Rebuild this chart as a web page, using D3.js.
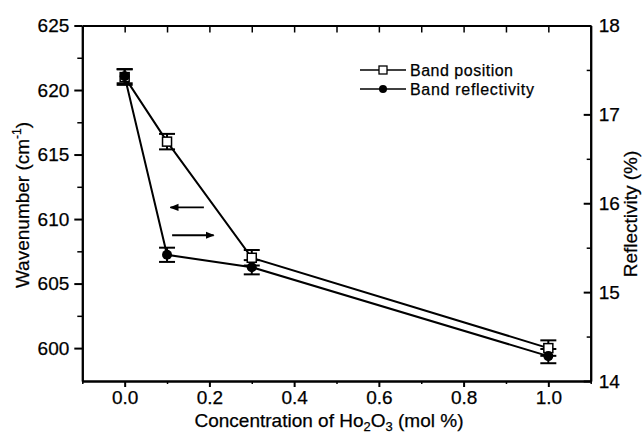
<!DOCTYPE html>
<html>
<head>
<meta charset="utf-8">
<script src="https://cdn.jsdelivr.net/npm/d3@7"></script>
<style>
  body { margin: 0; background: #fff; }
  text { font-family: "Liberation Sans", Arial, sans-serif; fill: #000; stroke: #000; stroke-width: 0.25px; }
</style>
</head>
<body>
<div id="vis-holder"></div>
<script>
// Data
const conc = [0.0, 0.1, 0.3, 1.0];
const bandPosition = [621, 616, 607, 600];
const positionErr = [0.6, 0.6, 0.6, 0.6];
const bandReflectivity = [17.43, 15.42, 15.28, 14.28];
const reflectivityErr = [0.08, 0.08, 0.08, 0.08];

const xTicks = [0.0, 0.2, 0.4, 0.6, 0.8, 1.0];
const xMinor = [-0.1, 0.1, 0.3, 0.5, 0.7, 0.9, 1.1];
const leftTicks = [600, 605, 610, 615, 620, 625];
const leftMinor = [602.5, 607.5, 612.5, 617.5, 622.5];
const rightTicks = [14, 15, 16, 17, 18];
const rightMinor = [14.5, 15.5, 16.5, 17.5];

const legendLabels = ["Band position", "Band reflectivity"];

// Set margins and dimensions
const width = 642;
const height = 433;
const margin = { top: 25.5, right: 51.3, bottom: 52, left: 82.3 };

const svg = d3.select("#vis-holder")
  .append("svg")
  .attr("width", width)
  .attr("height", height);

// Scales
const x = d3.scaleLinear()
  .domain([-0.1, 1.1])
  .range([margin.left, width - margin.right]);

const yL = d3.scaleLinear()
  .domain([597.45, 625])
  .range([height - margin.bottom, margin.top]);

const yR = d3.scaleLinear()
  .domain([14, 18])
  .range([height - margin.bottom, margin.top]);

function styleAxis(g, w) {
  g.select(".domain").attr("stroke-width", 2);
  g.selectAll(".tick line").attr("stroke-width", w);
  g.selectAll(".tick text").attr("font-size", "19px")
    .attr("font-family", "Liberation Sans, Arial, sans-serif");
}

// Bottom axis
svg.append("g")
  .attr("transform", `translate(0,${height - margin.bottom})`)
  .call(d3.axisBottom(x).tickValues(xMinor).tickSize(3).tickSizeOuter(0).tickFormat(""))
  .call(g => styleAxis(g, 1.5));
svg.append("g")
  .attr("transform", `translate(0,${height - margin.bottom})`)
  .call(d3.axisBottom(x).tickValues(xTicks).tickSize(6).tickPadding(4)
          .tickSizeOuter(0).tickFormat(d3.format(".1f")))
  .call(g => styleAxis(g, 2));

// Top axis (ticks inward, no labels)
svg.append("g")
  .attr("transform", `translate(0,${margin.top})`)
  .call(d3.axisTop(x).tickValues(xTicks.concat(xMinor)).tickSize(-7).tickSizeOuter(0).tickFormat(""))
  .call(g => styleAxis(g, 1.5));

// Left axis
svg.append("g")
  .attr("transform", `translate(${margin.left},0)`)
  .call(d3.axisLeft(yL).tickValues(leftMinor).tickSize(5).tickSizeOuter(0).tickFormat(""))
  .call(g => styleAxis(g, 1.5));
svg.append("g")
  .attr("transform", `translate(${margin.left},0)`)
  .call(d3.axisLeft(yL).tickValues(leftTicks).tickSize(8).tickPadding(5).tickSizeOuter(0))
  .call(g => styleAxis(g, 2));

// Right axis (ticks inward)
svg.append("g")
  .attr("transform", `translate(${width - margin.right},0)`)
  .call(d3.axisRight(yR).tickValues(rightMinor).tickSize(-4).tickSizeOuter(0).tickFormat(""))
  .call(g => styleAxis(g, 1.5));
svg.append("g")
  .attr("transform", `translate(${width - margin.right},0)`)
  .call(d3.axisRight(yR).tickValues(rightTicks).tickSize(-7).tickPadding(8)
          .tickSizeOuter(0).tickFormat(d3.format("d")))
  .call(g => styleAxis(g, 2));

// Axis titles
const xTitle = svg.append("text")
  .attr("x", 329)
  .attr("y", 427)
  .attr("text-anchor", "middle")
  .attr("font-size", "19px");
xTitle.append("tspan").text("Concentration of Ho");
xTitle.append("tspan").attr("font-size", "13px").attr("dy", 4).text("2");
xTitle.append("tspan").attr("dy", -4).text("O");
xTitle.append("tspan").attr("font-size", "13px").attr("dy", 4).text("3");
xTitle.append("tspan").attr("dy", -4).text(" (mol %)");

const yTitle = svg.append("text")
  .attr("transform", "translate(29,205) rotate(-90)")
  .attr("text-anchor", "middle")
  .attr("font-size", "19px");
yTitle.append("tspan").text("Wavenumber (cm");
yTitle.append("tspan").attr("font-size", "12px").attr("dy", -8).text("-1");
yTitle.append("tspan").attr("dy", 8).text(")");

svg.append("text")
  .attr("transform", "translate(637,214) rotate(-90)")
  .attr("text-anchor", "middle")
  .attr("font-size", "19px")
  .text("Reflectivity (%)");

// Lines
const posPts = conc.map((c, i) => [x(c), yL(bandPosition[i])]);
const refPts = conc.map((c, i) => [x(c), yR(bandReflectivity[i])]);

svg.append("path")
  .attr("d", d3.line()(refPts))
  .attr("fill", "none").attr("stroke", "#000").attr("stroke-width", 2);
svg.append("path")
  .attr("d", d3.line()(posPts))
  .attr("fill", "none").attr("stroke", "#000").attr("stroke-width", 2);

// Error bars
function errorBars(vals, errs, scale) {
  const g = svg.append("g").attr("stroke", "#000").attr("stroke-width", 2);
  conc.forEach((c, i) => {
    const cx = x(c);
    const y0 = scale(vals[i] - errs[i]);
    const y1 = scale(vals[i] + errs[i]);
    g.append("line").attr("x1", cx).attr("x2", cx).attr("y1", y0).attr("y2", y1);
    g.append("line").attr("x1", cx - 8).attr("x2", cx + 8).attr("y1", y0).attr("y2", y0);
    g.append("line").attr("x1", cx - 8).attr("x2", cx + 8).attr("y1", y1).attr("y2", y1);
  });
}
errorBars(bandPosition, positionErr, yL);
errorBars(bandReflectivity, reflectivityErr, yR);

// Markers
svg.selectAll(".pos")
  .data(conc)
  .enter()
  .append("rect")
    .attr("class", "pos")
    .attr("x", (d) => x(d) - 4.5)
    .attr("y", (d, i) => yL(bandPosition[i]) - 4.5)
    .attr("width", 9).attr("height", 9)
    .attr("fill", "#fff").attr("stroke", "#000").attr("stroke-width", 1.5);

svg.selectAll(".ref")
  .data(conc)
  .enter()
  .append("circle")
    .attr("class", "ref")
    .attr("cx", (d) => x(d))
    .attr("cy", (d, i) => yR(bandReflectivity[i]))
    .attr("r", 5)
    .attr("fill", "#000");

// Arrows pointing to the axis each series uses
svg.append("defs").append("marker")
  .attr("id", "head")
  .attr("viewBox", "0 0 10 10")
  .attr("refX", 9).attr("refY", 5)
  .attr("markerWidth", 5).attr("markerHeight", 5)
  .attr("orient", "auto")
  .append("path").attr("d", "M0,1 L10,5 L0,9 Z").attr("fill", "#000");

svg.append("line")
  .attr("x1", x(0.187)).attr("y1", yL(610.9))
  .attr("x2", x(0.108)).attr("y2", yL(610.9))
  .attr("stroke", "#000").attr("stroke-width", 1.8)
  .attr("marker-end", "url(#head)");
svg.append("line")
  .attr("x1", x(0.112)).attr("y1", yR(15.64))
  .attr("x2", x(0.21)).attr("y2", yR(15.64))
  .attr("stroke", "#000").attr("stroke-width", 1.8)
  .attr("marker-end", "url(#head)");

// Legend
const legend = svg.append("g").attr("transform", "translate(360,70)");
legendLabels.forEach((label, i) => {
  const row = legend.append("g").attr("transform", `translate(0,${i * 19})`);
  row.append("line").attr("x1", 0).attr("x2", 46).attr("y1", 0).attr("y2", 0)
    .attr("stroke", "#000").attr("stroke-width", 1.5);
  if (i === 0) {
    row.append("rect").attr("x", 19).attr("y", -4).attr("width", 8).attr("height", 8)
      .attr("fill", "#fff").attr("stroke", "#000").attr("stroke-width", 1.3);
  } else {
    row.append("circle").attr("cx", 23).attr("cy", 0).attr("r", 4).attr("fill", "#000");
  }
  row.append("text").attr("x", 50).attr("y", 6).attr("font-size", "16px")
    .attr("textLength", i === 0 ? 103 : 124).attr("lengthAdjust", "spacing").text(label);
});
</script>
</body>
</html>
